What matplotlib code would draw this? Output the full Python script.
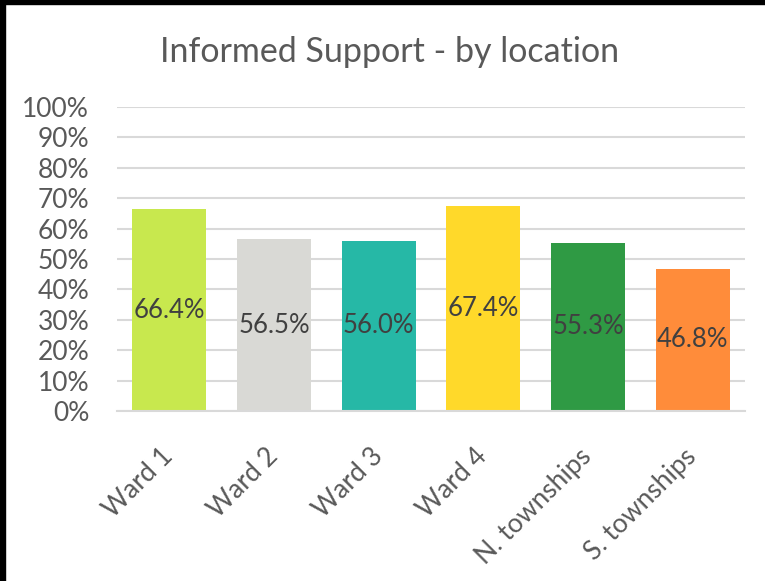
import matplotlib
matplotlib.use("Agg")
import matplotlib.pyplot as plt
from matplotlib.patches import Rectangle
from matplotlib.ticker import FuncFormatter, MultipleLocator

categories = ["Ward 1", "Ward 2", "Ward 3", "Ward 4", "N. townships", "S. townships"]
values = [0.664, 0.565, 0.560, 0.674, 0.553, 0.468]
labels = ["66.4%", "56.5%", "56.0%", "67.4%", "55.3%", "46.8%"]
colors = ["#C8E84E", "#D9D9D5", "#26B8A6", "#FFD92A", "#2F9A44", "#FF8C3A"]

plt.rcParams['font.family'] = ['Lato', 'DejaVu Sans']

fig = plt.figure(figsize=(7.65, 5.81), dpi=100)
ax = fig.add_axes([117/765, 1-411/581, (745-117)/765, (411-107)/581])

x = list(range(len(categories)))
bars = ax.bar(x, values, width=0.71, color=colors, zorder=2)
for b, lab in zip(bars, labels):
    ax.text(b.get_x() + b.get_width()/2, b.get_height()/2, lab,
            ha='center', va='center', fontsize=18.5, color='#404040', zorder=3)

ax.set_xlim(-0.5, len(categories) - 0.5)
ax.set_ylim(0, 1.0)
ax.yaxis.set_major_locator(MultipleLocator(0.1))
ax.yaxis.set_major_formatter(FuncFormatter(lambda v, p: f"{v*100:.0f}%"))
ax.grid(axis='y', color='#D9D9D9', linewidth=1.5, zorder=0)
ax.set_axisbelow(True)
for s in ['top', 'right', 'left']:
    ax.spines[s].set_visible(False)
ax.spines['bottom'].set_color('#D9D9D9')
ax.spines['bottom'].set_linewidth(1.5)
ax.tick_params(axis='both', length=0, colors='#595959', labelsize=19)
ax.tick_params(axis='y', pad=20)
ax.set_xticks(x)
ax.set_xticklabels(categories, rotation=45, ha='right', va='center',
                   rotation_mode='anchor')
ax.tick_params(axis='x', pad=30)

fig.text(390/765, 1-62/581, "Informed Support - by location", ha='center', va='baseline',
         fontsize=24.5, color='#595959')

# black border (top and left)
fig.patches.append(Rectangle((0, 1-4/581), 1, 4/581, transform=fig.transFigure,
                             color='black', zorder=10))
fig.patches.append(Rectangle((0, 0), 5/765, 1, transform=fig.transFigure,
                             color='black', zorder=10))

fig.savefig("out.png", dpi=100)
